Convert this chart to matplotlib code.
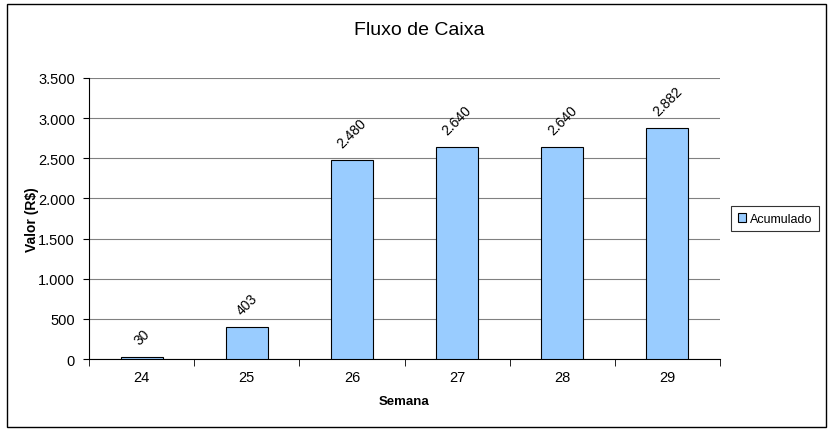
import matplotlib
matplotlib.use("Agg")
from matplotlib import pyplot as plt
from matplotlib.patches import Rectangle
from matplotlib.ticker import FuncFormatter

semanas = ["24", "25", "26", "27", "28", "29"]
acumulado = [30, 403, 2480, 2640, 2640, 2882]
rotulos = ["30", "403", "2.480", "2.640", "2.640", "2.882"]

plt.rcParams['font.family'] = ['Liberation Sans', 'DejaVu Sans']

fig = plt.figure(figsize=(8.3, 4.35), dpi=100)
ax = fig.add_axes([0.1072, 0.1724, 0.7603, 0.646])

# borda externa do grafico
fig.patches.append(Rectangle((0.008, 0.016), 0.987, 0.972, transform=fig.transFigure,
                             fill=False, edgecolor='black', linewidth=1.0))

x = range(len(semanas))
bars = ax.bar(x, acumulado, width=0.4, color='#99CCFF', edgecolor='black', linewidth=0.8,
              label='Acumulado', zorder=3)

for i, (v, r) in enumerate(zip(acumulado, rotulos)):
    ax.annotate(r, (i, v), xytext=(0, 7), textcoords='offset points',
                ha='center', va='bottom', rotation=45, fontsize=10)

ax.set_xlim(-0.5, len(semanas) - 0.5)
ax.set_ylim(0, 3500)
ax.set_yticks(range(0, 3501, 500))
ax.yaxis.set_major_formatter(FuncFormatter(lambda v, p: f"{int(v):,}".replace(",", ".")))
ax.set_xticks(list(x))
ax.set_xticklabels(semanas)
ax.set_xticks([i - 0.5 for i in range(len(semanas) + 1)], minor=True)
ax.tick_params(axis='x', which='major', length=0, pad=8, labelsize=10.5)
ax.tick_params(axis='x', which='minor', length=5, direction='out')
ax.tick_params(axis='y', length=4, direction='out', labelsize=10.5, pad=6)

ax.grid(axis='y', color='#808080', linewidth=0.8, zorder=0)
ax.spines['top'].set_visible(False)
ax.spines['right'].set_visible(False)

fig.text(0.505, 0.93, 'Fluxo de Caixa', fontsize=14, ha='center', va='center')
ax.set_ylabel('Valor (R$)', fontsize=10, fontweight='bold')
ax.yaxis.set_label_coords(-0.079, 0.5)
ax.set_xlabel('Semana', fontsize=9.5, fontweight='bold', labelpad=8)

leg = ax.legend(loc='center left', bbox_to_anchor=(1.008, 0.5), fontsize=9, frameon=True,
                fancybox=False, edgecolor='black', handlelength=0.7, handleheight=0.7,
                handletextpad=0.3, borderpad=0.5)
leg.get_frame().set_linewidth(0.8)

fig.savefig('out.png', dpi=100)
